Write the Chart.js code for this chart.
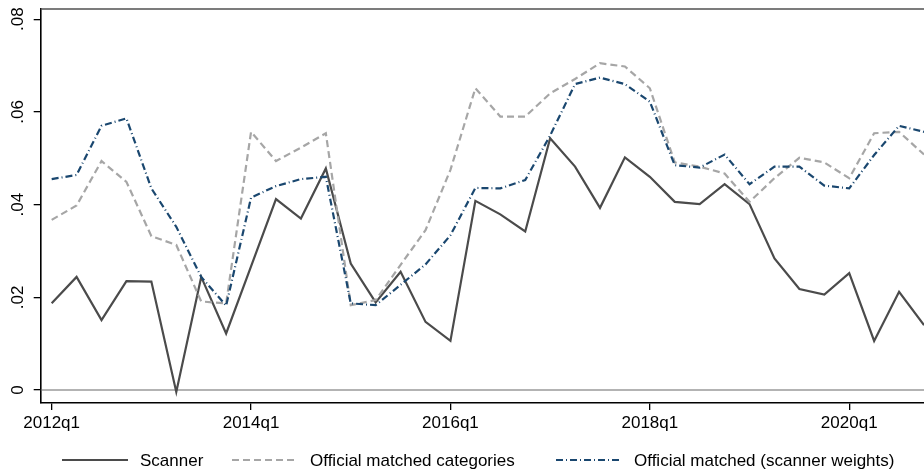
<!DOCTYPE html>
<html>
<head>
<meta charset="utf-8">
<script src="https://cdn.jsdelivr.net/npm/chart.js@4.4.1/dist/chart.umd.min.js"></script>
<style>
  html, body { margin: 0; padding: 0; background: #fff; }
  #wrap { width: 924px; height: 473px; position: relative; }
</style>
</head>
<body>
<div id="wrap"><canvas id="c"></canvas></div>
<script>
// Quarterly inflation rates, 2012q1 - 2020q4
const quarters = [
  "2012q1","2012q2","2012q3","2012q4","2013q1","2013q2","2013q3","2013q4",
  "2014q1","2014q2","2014q3","2014q4","2015q1","2015q2","2015q3","2015q4",
  "2016q1","2016q2","2016q3","2016q4","2017q1","2017q2","2017q3","2017q4",
  "2018q1","2018q2","2018q3","2018q4","2019q1","2019q2","2019q3","2019q4",
  "2020q1","2020q2","2020q3","2020q4"
];
const scanner = [
  0.0187, 0.0244, 0.0151, 0.0235, 0.0234, -0.0004, 0.0244, 0.0122,
  0.0267, 0.0412, 0.0370, 0.0478, 0.0273, 0.0189, 0.0255, 0.0147,
  0.0106, 0.0408, 0.0379, 0.0342, 0.0543, 0.0482, 0.0393, 0.0502,
  0.0460, 0.0406, 0.0401, 0.0444, 0.0401, 0.0284, 0.0218, 0.0206,
  0.0252, 0.0106, 0.0212, 0.0140
];
const officialMatched = [
  0.0367, 0.0398, 0.0494, 0.0449, 0.0332, 0.0313, 0.0191, 0.0187,
  0.0557, 0.0494, 0.0523, 0.0554, 0.0183, 0.0194, 0.0270, 0.0345,
  0.0475, 0.0651, 0.0590, 0.0590, 0.0640, 0.0671, 0.0705, 0.0698,
  0.0651, 0.0491, 0.0482, 0.0467, 0.0406, 0.0457, 0.0501, 0.0491,
  0.0457, 0.0554, 0.0557, 0.0508
];
const officialScannerWeights = [
  0.0455, 0.0464, 0.0570, 0.0586, 0.0435, 0.0352, 0.0244, 0.0182,
  0.0415, 0.0440, 0.0455, 0.0460, 0.0187, 0.0183, 0.0227, 0.0271,
  0.0334, 0.0436, 0.0435, 0.0453, 0.0549, 0.0660, 0.0674, 0.0660,
  0.0622, 0.0485, 0.0480, 0.0508, 0.0444, 0.0482, 0.0482, 0.0441,
  0.0435, 0.0507, 0.0570, 0.0557
];
const xTickLabels = ["2012q1","2014q1","2016q1","2018q1","2020q1"];
const yTickValues = [0, 0.02, 0.04, 0.06, 0.08];
const yTickLabels = ["0", ".02", ".04", ".06", ".08"];
const seriesNames = ["Scanner", "Official matched categories", "Official matched (scanner weights)"];

const FONT = '"Liberation Sans", Arial, Helvetica, sans-serif';
const COLORS = ["#4b4b4b", "#a6a6a6", "#1a476f"];
const DASHES = [[], [7, 4], [7, 3, 1, 3]];

const toPoints = arr => arr.map((v, i) => ({ x: i, y: v }));
const series = [scanner, officialMatched, officialScannerWeights];

const datasets = series.map((arr, k) => ({
  label: seriesNames[k],
  data: toPoints(arr),
  borderColor: COLORS[k],
  borderWidth: 2.2,
  borderDash: DASHES[k],
  pointRadius: 0,
  tension: 0,
  fill: false,
  order: 3 - k
}));

// Frame, zero line, rotated y labels and the bottom legend
const decorations = {
  id: 'decorations',
  beforeDatasetsDraw(chart) {
    const { ctx, chartArea: a, scales: { y } } = chart;
    const y0 = y.getPixelForValue(0);
    ctx.save();
    ctx.strokeStyle = '#686868';
    ctx.lineWidth = 1.2;
    ctx.beginPath();
    ctx.moveTo(a.left, y0);
    ctx.lineTo(a.right, y0);
    ctx.stroke();
    ctx.strokeStyle = '#505050';
    ctx.lineWidth = 1.3;
    ctx.beginPath();
    ctx.moveTo(a.left, a.top);
    ctx.lineTo(a.right, a.top);
    ctx.stroke();
    ctx.restore();
  },
  afterDraw(chart) {
    const { ctx, scales: { y } } = chart;
    ctx.save();
    ctx.fillStyle = '#000';
    ctx.font = '17px ' + FONT;
    ctx.textAlign = 'center';
    ctx.textBaseline = 'middle';
    yTickValues.forEach((v, i) => {
      const py = y.getPixelForValue(v);
      ctx.save();
      ctx.translate(18.5, py);
      ctx.rotate(-Math.PI / 2);
      ctx.fillText(yTickLabels[i], 0, 0);
      ctx.restore();
    });

    // legend
    const ly = 460;
    const starts = [62, 232, 556];
    ctx.textAlign = 'left';
    seriesNames.forEach((name, k) => {
      const x0 = starts[k];
      ctx.save();
      ctx.strokeStyle = COLORS[k];
      ctx.lineWidth = 2.2;
      ctx.setLineDash(DASHES[k]);
      ctx.beginPath();
      ctx.moveTo(x0, ly);
      ctx.lineTo(x0 + 66, ly);
      ctx.stroke();
      ctx.restore();
      ctx.fillStyle = '#000';
      ctx.fillText(name, x0 + 78, ly + 1);
    });
    ctx.restore();
  }
};

new Chart(document.getElementById('c'), {
  type: 'line',
  data: { datasets },
  options: {
    responsive: true,
    maintainAspectRatio: false,
    animation: false,
    layout: { padding: { top: 9, right: 0, left: 0, bottom: 0 } },
    plugins: { legend: { display: false }, tooltip: { enabled: false } },
    scales: {
      x: {
        type: 'linear',
        min: -0.44,
        max: 35,
        afterBuildTicks: s => { s.ticks = [0, 8, 16, 24, 32].map(v => ({ value: v })); },
        afterFit: s => { s.height = 70; },
        ticks: {
          color: '#000',
          font: { family: FONT, size: 17 },
          padding: 3,
          maxRotation: 0,
          callback: v => xTickLabels[[0, 8, 16, 24, 32].indexOf(v)] ?? quarters[v]
        },
        grid: { display: true, drawOnChartArea: false, drawTicks: true, tickLength: 7, color: '#000', lineWidth: 1.3 },
        border: { display: true, color: '#000', width: 1.6 }
      },
      y: {
        type: 'linear',
        min: -0.0028,
        max: 0.0822,
        afterBuildTicks: s => { s.ticks = yTickValues.map(v => ({ value: v })); },
        afterFit: s => { s.width = 40.7; },
        ticks: { display: false },
        grid: { display: true, drawOnChartArea: false, drawTicks: true, tickLength: 7, color: '#000', lineWidth: 1.3 },
        border: { display: true, color: '#000', width: 1.6 }
      }
    }
  },
  plugins: [decorations]
});
</script>
</body>
</html>
